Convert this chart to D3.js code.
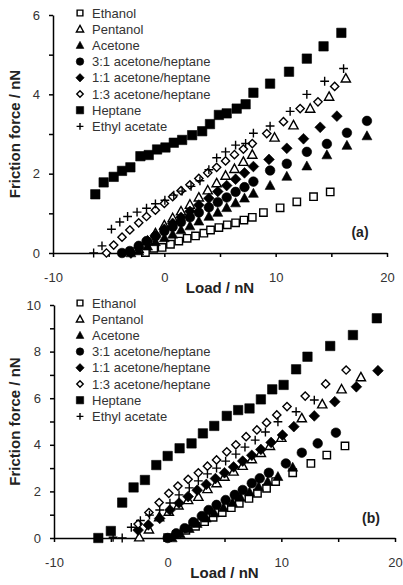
<!DOCTYPE html>
<html>
<head>
<meta charset="utf-8">
<script src="https://cdn.jsdelivr.net/npm/d3@7"></script>
<style>
  body { margin: 0; background: #fff; }
  svg { display: block; font-family: "Liberation Sans", Arial, sans-serif; }
</style>
</head>
<body>
<svg id="chart"></svg>
<script>
// series names, in legend order
const seriesNames = ['Ethanol', 'Pentanol', 'Acetone', '3:1 acetone/heptane',
  '1:1 acetone/heptane', '1:3 acetone/heptane', 'Heptane', 'Ethyl acetate'];

// tick values
const xTicks = [-10, -5, 0, 5, 10, 15, 20];
const yTicksTop = [0, 1, 2, 3, 4, 5, 6];
const yTicksBottom = [0, 1, 2, 3, 4, 5, 6, 7, 8, 9, 10];

// panel (a) : [load, friction]
const topEthanol = [[-1.7,0.01],[-0.95,0.12],[-0.2,0.14],[0.55,0.22],[1.3,0.30],[2.05,0.37],[2.8,0.43],[3.55,0.5],[4.15,0.58],[4.9,0.64],[5.65,0.71],[6.4,0.76],[7.15,0.83],[7.9,0.9],[8.9,1.02],[10.4,1.14],[11.9,1.29],[13.4,1.42],[14.9,1.54]];
const topPentanol = [[-2.3,0.1],[-1.5,0.3],[-0.8,0.5],[0.0,0.7],[0.75,0.88],[1.5,1.05],[2.3,1.22],[3.1,1.4],[3.9,1.58],[4.7,1.76],[5.5,1.95],[6.3,2.12],[7.1,2.3],[7.9,2.48],[9.9,2.91],[11.6,3.22],[13.1,3.64],[14.8,3.94],[16.3,4.4]];
const topAcetone = [[-3.0,0.0],[-2.3,0.05],[-1.5,0.17],[-0.8,0.28],[0.0,0.38],[0.75,0.47],[1.5,0.58],[2.3,0.68],[3.1,0.80],[4.0,0.92],[4.8,1.02],[5.6,1.14],[6.4,1.26],[7.2,1.38],[8.0,1.5],[9.5,1.70],[11.0,1.93],[12.8,2.19],[14.6,2.47],[16.4,2.71],[18.2,2.95]];
const top31 = [[-3.8,0.0],[-3.1,0.05],[-2.3,0.18],[-1.6,0.30],[-0.8,0.42],[0.0,0.55],[0.75,0.66],[1.5,0.78],[2.3,0.90],[3.1,1.02],[4.0,1.15],[4.8,1.28],[5.6,1.40],[6.4,1.54],[7.2,1.66],[8.0,1.8],[9.5,2.08],[11.0,2.25],[12.8,2.55],[14.6,2.75],[16.4,3.03],[18.2,3.33]];
const top11 = [[-3.0,0.0],[-2.3,0.14],[-1.5,0.3],[-0.8,0.44],[0.0,0.6],[0.75,0.75],[1.5,0.9],[2.3,1.05],[3.1,1.21],[4.0,1.38],[4.8,1.55],[5.6,1.7],[6.4,1.86],[7.2,2.02],[8.0,2.18],[9.4,2.36],[11.0,2.64],[12.5,2.88],[14.0,3.17],[15.5,3.45]];
const top13 = [[-5.2,0.0],[-4.55,0.2],[-3.8,0.4],[-3.1,0.58],[-2.3,0.76],[-1.6,0.92],[-0.8,1.08],[0.0,1.25],[0.75,1.42],[1.5,1.57],[2.3,1.72],[3.1,1.88],[3.9,2.02],[4.7,2.16],[5.5,2.32],[6.3,2.48],[7.1,2.62],[7.9,2.76],[9.2,3.01],[10.7,3.31],[12.2,3.64],[13.8,3.81],[15.3,4.2]];
const topHeptane = [[-6.2,1.48],[-5.45,1.78],[-4.55,1.92],[-3.8,2.07],[-3.05,2.16],[-2.15,2.44],[-1.4,2.47],[-0.65,2.61],[0.1,2.66],[0.85,2.78],[1.6,2.85],[2.5,2.97],[3.4,3.07],[4.1,3.25],[4.9,3.48],[5.6,3.52],[6.5,3.64],[7.3,3.75],[8.0,4.04],[9.5,4.27],[11.2,4.57],[12.8,4.90],[14.3,5.21],[15.9,5.55]];
const topEthylAcetate = [[-6.35,0.0],[-5.6,0.18],[-4.75,0.6],[-4.0,0.78],[-3.3,0.92],[-2.45,1.03],[-1.6,1.13],[-0.8,1.24],[0.05,1.33],[0.85,1.46],[1.6,1.56],[2.4,1.68],[3.2,1.82],[4.0,2.1],[4.7,2.4],[5.5,2.55],[6.4,2.72],[7.3,2.76],[8.0,3.02],[9.5,3.2],[11.3,3.57],[12.8,4.0],[14.4,4.33],[16.1,4.65]];

// panel (b)
const botEthanol = [[0.0,0.02],[0.8,0.15],[1.6,0.33],[2.45,0.5],[3.25,0.7],[4.0,0.89],[4.8,1.09],[5.6,1.3],[6.3,1.49],[7.15,1.7],[7.9,1.92],[8.7,2.13],[9.5,2.42],[11.0,2.8],[12.6,3.2],[14.0,3.56],[15.6,3.95]];
const botPentanol = [[-2.5,0.03],[-1.65,0.37],[-0.75,0.89],[0.1,1.13],[0.95,1.4],[1.8,1.63],[2.7,1.77],[3.5,2.1],[4.3,2.35],[5.0,2.63],[5.8,2.85],[6.6,3.1],[7.4,3.38],[8.2,3.65],[9.0,3.95],[10.0,4.3],[11.8,5.14],[13.6,5.74],[15.3,6.38],[17.0,6.9]];
const botAcetone = [[0.4,0.0],[1.1,0.18],[1.9,0.4],[2.6,0.62],[3.4,0.85],[4.1,1.07],[4.9,1.3],[5.7,1.52],[6.4,1.74],[7.2,1.97],[8.0,2.2],[8.8,2.42],[9.7,2.63],[11.0,3.03]];
const bot31 = [[0.0,0.0],[0.75,0.2],[1.5,0.42],[2.25,0.68],[3.0,0.94],[3.6,1.2],[4.3,1.42],[5.1,1.63],[5.9,1.85],[6.6,2.06],[7.4,2.35],[8.1,2.56],[8.9,2.8],[10.4,3.2],[11.8,3.66],[13.2,4.06],[14.8,4.52]];
const bot11 = [[-2.6,0.34],[-1.7,0.56],[-0.7,0.84],[0.2,1.2],[1.0,1.5],[1.8,1.78],[2.6,2.05],[3.4,2.3],[4.2,2.55],[5.0,2.8],[5.8,3.05],[6.6,3.3],[7.4,3.55],[8.2,3.8],[9.1,4.1],[10.1,4.42],[11.1,4.78],[12.9,5.24],[14.7,5.85],[16.6,6.49],[18.5,7.18]];
const bot13 = [[-2.6,0.6],[-1.65,1.09],[-0.75,1.52],[0.1,1.92],[0.9,2.23],[1.8,2.52],[2.7,2.8],[3.5,3.08],[4.3,3.35],[5.2,3.7],[6.0,4.0],[6.9,4.35],[7.85,4.64],[8.7,4.95],[9.6,5.28],[10.5,5.64],[12.1,6.09],[13.9,6.61],[15.7,7.21]];
const botHeptane = [[-6.1,0.0],[-5.0,0.3],[-4.0,1.52],[-3.0,2.17],[-2.0,2.49],[-1.0,3.13],[0.0,3.52],[1.05,3.85],[2.1,4.06],[3.1,4.49],[4.1,4.81],[5.2,5.24],[6.2,5.49],[7.2,5.56],[8.2,5.95],[9.2,6.38],[10.2,6.57],[11.3,7.24],[12.3,7.78],[14.3,8.24],[16.3,8.71],[18.4,9.43]];
const botEthylAcetate = [[-4.8,0.03],[-4.0,0.0],[-3.2,0.46],[-2.4,0.75],[-1.6,0.98],[-0.7,1.2],[0.2,1.5],[1.0,1.85],[1.9,2.15],[2.7,2.45],[3.5,2.75],[4.3,3.0],[5.1,3.3],[6.0,3.6],[6.8,3.9],[7.7,4.2],[8.6,4.55],[9.7,4.99],[11.3,5.42],[12.9,5.92]];

const width = 403;
const height = 585;

const svg = d3.select('#chart')
  .attr('width', width)
  .attr('height', height);

// marker look per series (same order as seriesNames)
const markerType = ['square', 'triangle', 'triangle', 'circle', 'diamond', 'diamond', 'square', 'plus'];
const markerFilled = [false, false, true, true, true, false, true, false];
const markerSize = [3.7, 4.2, 4.5, 4.8, 4.3, 3.3, 4.7, 4.4];

const shapes = {
  square: s => `M${-s},${-s}H${s}V${s}H${-s}Z`,
  triangle: s => `M0,${-s * 1.15}L${s * 1.1},${s * 0.85}L${-s * 1.1},${s * 0.85}Z`,
  diamond: s => `M0,${-s * 1.25}L${s * 1.25},0L0,${s * 1.25}L${-s * 1.25},0Z`,
  circle: s => d3.symbol(d3.symbolCircle, Math.PI * s * s)(),
  plus: s => `M${-s},0H${s}M0,${-s}V${s}`
};

function drawMarkers(g, pts, i, scale) {
  const filled = markerFilled[i];
  const type = markerType[i];
  g.selectAll(null)
    .data(pts)
    .enter().append('path')
    .attr('d', shapes[type](markerSize[i] * scale))
    .attr('transform', d => `translate(${d[0]},${d[1]})`)
    .attr('fill', type === 'plus' ? 'none' : (filled ? '#000' : '#fff'))
    .attr('stroke', '#000')
    .attr('stroke-width', filled ? 0.6 : 1.4);
}

const panels = [
  {
    data: [topEthanol, topPentanol, topAcetone, top31, top11, top13, topHeptane, topEthylAcetate],
    xRange: [53, 387], yRange: [253, 15], yDomain: [0, 6], yTicks: yTicksTop,
    legendY: 13, label: '(a)', labelPos: [360, 237]
  },
  {
    data: [botEthanol, botPentanol, botAcetone, bot31, bot11, bot13, botHeptane, botEthylAcetate],
    xRange: [54, 395], yRange: [538, 305], yDomain: [0, 10], yTicks: yTicksBottom,
    legendY: 303, label: '(b)', labelPos: [371, 523]
  }
];

panels.forEach(p => {
  const x = d3.scaleLinear().domain([-10, 20]).range(p.xRange);
  const y = d3.scaleLinear().domain(p.yDomain).range(p.yRange);

  const xAxis = d3.axisBottom(x)
    .tickValues(xTicks)
    .tickFormat(d => d % 10 === 0 ? d : '')
    .tickSizeInner(4)
    .tickSizeOuter(0)
    .tickPadding(16);

  const yAxis = d3.axisLeft(y)
    .tickValues(p.yTicks)
    .tickFormat(d => d % 2 === 0 ? d : '')
    .tickSizeInner(4)
    .tickSizeOuter(0)
    .tickPadding(9);

  const gx = svg.append('g')
    .attr('transform', `translate(0,${p.yRange[0]})`)
    .call(xAxis);
  const gy = svg.append('g')
    .attr('transform', `translate(${p.xRange[0]},0)`)
    .call(yAxis);

  [gx, gy].forEach(g => {
    g.selectAll('path, line').attr('stroke', '#000').attr('stroke-width', 1.5);
    g.selectAll('text')
      .attr('font-size', 13)
      .attr('font-family', '"Liberation Sans", Arial, sans-serif')
      .attr('fill', '#333');
  });
  gx.selectAll('text').attr('dy', '0.71em');

  // axis titles
  svg.append('text')
    .attr('x', (p.xRange[0] + p.xRange[1]) / 2)
    .attr('y', p.yRange[0] + 40)
    .attr('text-anchor', 'middle')
    .attr('font-size', 15)
    .attr('font-weight', 'bold')
    .attr('fill', '#222')
    .text('Load / nN');

  svg.append('text')
    .attr('transform', `translate(20,${(p.yRange[0] + p.yRange[1]) / 2}) rotate(-90)`)
    .attr('text-anchor', 'middle')
    .attr('font-size', 15)
    .attr('font-weight', 'bold')
    .attr('fill', '#222')
    .text('Friction force / nN');

  svg.append('text')
    .attr('x', p.labelPos[0])
    .attr('y', p.labelPos[1])
    .attr('text-anchor', 'middle')
    .attr('font-size', 14)
    .attr('font-weight', 'bold')
    .attr('fill', '#222')
    .text(p.label);

  // data points
  const plot = svg.append('g');
  p.data.forEach((series, i) => {
    const pts = series.map(d => [x(d[0]), y(d[1])]);
    drawMarkers(plot.append('g'), pts, i, 1);
  });

  // legend
  const legend = svg.append('g');
  seriesNames.forEach((name, i) => {
    const ly = p.legendY + i * 16.2;
    drawMarkers(legend.append('g'), [[80, ly]], i, 0.78);
    legend.append('text')
      .attr('x', 92)
      .attr('y', ly)
      .attr('dy', '0.35em')
      .attr('font-size', 13)
      .attr('fill', '#333')
      .text(name);
  });
});
</script>
</body>
</html>
